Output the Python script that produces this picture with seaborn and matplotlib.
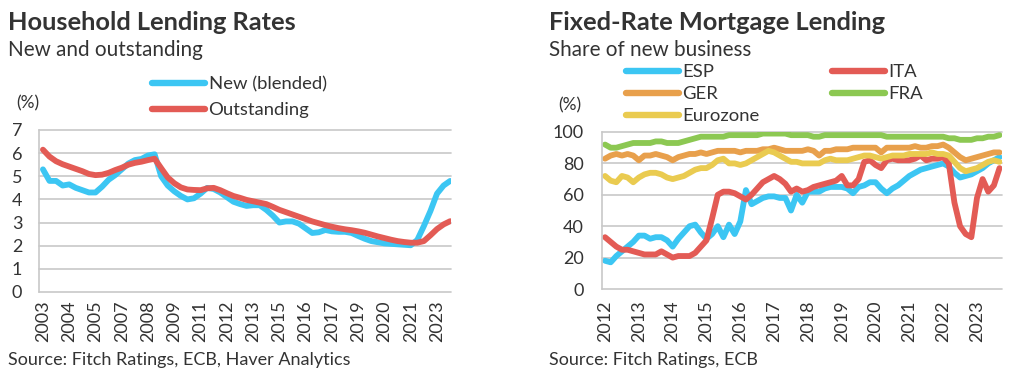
import matplotlib
matplotlib.use("Agg")
import matplotlib.pyplot as plt
import numpy as np
import pandas as pd
import seaborn as sns

# ---------------- Left chart data: Household lending rates (%), every 4 months from Jan 2003
hh_start_year = 2003
hh_step_months = 4
new_blended = [5.3, 4.8, 4.8, 4.6, 4.65, 4.5, 4.4, 4.3, 4.3, 4.55, 4.85, 5.05, 5.3, 5.55,
               5.7, 5.75, 5.9, 5.95, 5.0, 4.6, 4.35, 4.15, 4.0, 4.05, 4.25, 4.5, 4.45, 4.3,
               4.1, 3.9, 3.8, 3.72, 3.75, 3.75, 3.55, 3.3, 3.0, 3.05, 3.05, 2.95, 2.75, 2.55,
               2.58, 2.68, 2.62, 2.6, 2.6, 2.55, 2.42, 2.3, 2.2, 2.15, 2.1, 2.08, 2.06, 2.04,
               2.02, 2.25, 2.85, 3.5, 4.25, 4.6, 4.8]
outstanding = [6.15, 5.85, 5.65, 5.52, 5.42, 5.32, 5.22, 5.1, 5.05, 5.07, 5.15, 5.27, 5.37,
               5.5, 5.58, 5.63, 5.7, 5.76, 5.35, 4.95, 4.7, 4.52, 4.43, 4.41, 4.4, 4.48, 4.5,
               4.4, 4.27, 4.15, 4.07, 3.98, 3.92, 3.86, 3.8, 3.68, 3.55, 3.45, 3.35, 3.25,
               3.15, 3.05, 2.97, 2.89, 2.82, 2.76, 2.71, 2.67, 2.62, 2.56, 2.48, 2.4, 2.33,
               2.26, 2.2, 2.16, 2.13, 2.13, 2.2, 2.45, 2.72, 2.92, 3.06]
hh_tick_labels = ["2003", "2004", "2005", "2007", "2008", "2009", "2011", "2012", "2013",
                  "2015", "2016", "2017", "2019", "2020", "2021", "2023"]
hh_tick_step_months = 16
hh_series = ["New (blended)", "Outstanding"]
hh_colors = ["#3CC6F3", "#E35B55"]

# ---------------- Right chart data: fixed-rate share of new business (%), every 2 months from Jan 2012
fr_start_year = 2012
fr_step_months = 2
esp = [18, 17, 21, 24, 27, 30, 34, 34, 32, 33, 33, 31, 27, 32, 36, 40, 41, 36, 32, 35, 40, 33,
       41, 35, 43, 63, 54, 56, 58, 59, 59, 58, 58, 50, 60, 55, 62, 62, 62, 64, 65, 65, 65, 64,
       61, 65, 66, 68, 68, 64, 61, 64, 66, 69, 72, 74, 76, 77, 78, 79, 80, 78, 74, 71, 72, 73,
       75, 77, 80, 82, 84]
ita = [33, 30, 27, 25, 25, 24, 23, 22, 22, 22, 24, 22, 20, 21, 21, 21, 23, 27, 31, 45, 60, 62,
       62, 61, 59, 57, 60, 64, 68, 70, 72, 70, 67, 62, 64, 62, 63, 65, 66, 67, 68, 69, 72, 66,
       66, 70, 81, 82, 79, 77, 82, 83, 82, 82, 82, 83, 85, 82, 83, 83, 84, 80, 55, 40, 35, 33,
       58, 70, 62, 66, 77]
ger = [83, 85, 86, 85, 86, 85, 82, 85, 85, 86, 85, 84, 82, 84, 85, 86, 86, 87, 86, 87, 88, 88,
       88, 88, 87, 88, 88, 88, 89, 89, 90, 89, 88, 88, 88, 88, 89, 88, 85, 88, 88, 89, 89, 89,
       90, 90, 90, 90, 90, 87, 90, 90, 90, 90, 90, 91, 90, 90, 91, 91, 92, 90, 87, 84, 82, 83,
       84, 85, 86, 87, 87]
fra = [92, 90, 90, 91, 92, 93, 93, 93, 93, 94, 94, 93, 93, 93, 94, 95, 96, 97, 97, 97, 97, 97,
       98, 98, 98, 98, 98, 98, 99, 99, 99, 99, 99, 98, 98, 98, 98, 97, 97, 98, 98, 98, 98, 98,
       98, 98, 98, 98, 98, 98, 97, 97, 97, 97, 97, 97, 97, 97, 97, 97, 97, 96, 96, 95, 95, 95,
       96, 96, 97, 97, 98]
eurozone = [72, 69, 68, 72, 71, 68, 71, 73, 74, 74, 73, 71, 70, 71, 72, 74, 76, 77, 77, 79, 82,
            83, 80, 80, 79, 80, 82, 84, 86, 88, 87, 85, 83, 81, 81, 80, 80, 80, 80, 82, 83, 82,
            82, 82, 83, 84, 85, 85, 84, 83, 84, 85, 85, 85, 86, 86, 86, 86, 87, 86, 86, 85, 81,
            77, 75, 76, 77, 79, 81, 82, 81]
fr_tick_labels = ["2012", "2013", "2014", "2015", "2016", "2017", "2018", "2019", "2020",
                  "2021", "2022", "2023"]
fr_series = ["ESP", "ITA", "GER", "FRA", "Eurozone"]
fr_colors = ["#3CC6F3", "#E35B55", "#E8A04C", "#8CC852", "#EACB50"]

# ---------------- Build long-form tables
def long_table(series_names, series_values, start_year, step):
    frames = []
    for name, vals in zip(series_names, series_values):
        t = start_year + np.arange(len(vals)) * step / 12.0
        frames.append(pd.DataFrame({"date": t, "value": vals, "series": name}))
    return pd.concat(frames, ignore_index=True)

hh_df = long_table(hh_series, [new_blended, outstanding], hh_start_year, hh_step_months)
fr_df = long_table(fr_series, [esp, ita, ger, fra, eurozone], fr_start_year, fr_step_months)

# ---------------- Style
sns.set_style("white")
plt.rcParams["font.family"] = ["Lato", "DejaVu Sans"]
TXT = "#333333"
GRID = "#C8C8C8"
W, H = 1020, 380

fig = plt.figure(figsize=(W / 100, H / 100), dpi=100)

def fx(px):
    return px / W

def fy(py):
    return 1 - py / H

def axes_px(x0, y0, x1, y1):
    return fig.add_axes([fx(x0), fy(y1), fx(x1) - fx(x0), (y1 - y0) / H])

axL = axes_px(39, 130, 451, 292)
axR = axes_px(602, 132, 1002, 289)

LW = 4.2

sns.lineplot(data=hh_df, x="date", y="value", hue="series", hue_order=hh_series,
             palette=hh_colors, linewidth=LW, ax=axL, legend=True)
sns.lineplot(data=fr_df, x="date", y="value", hue="series", hue_order=fr_series,
             palette=fr_colors, linewidth=LW, ax=axR, legend=True)

def style_axes(ax):
    ax.set_xlabel("")
    ax.set_ylabel("")
    for s in ["top", "right", "bottom"]:
        ax.spines[s].set_visible(False)
    ax.spines["left"].set_color(GRID)
    ax.spines["left"].set_linewidth(1.2)
    ax.yaxis.grid(True, color=GRID, linewidth=1.2)
    ax.xaxis.grid(False)
    ax.set_axisbelow(True)
    ax.tick_params(axis="both", length=0, labelsize=13, colors=TXT)

# Left axes
style_axes(axL)
axL.set_ylim(0, 7)
axL.set_yticks(range(0, 8))
hh_ticks = [hh_start_year + i * hh_tick_step_months / 12.0 for i in range(len(hh_tick_labels))]
axL.set_xticks(hh_ticks)
axL.set_xticklabels(hh_tick_labels, rotation=90)
axL.set_xlim(hh_start_year - 0.2, hh_start_year + 20.71)
axL.tick_params(axis="y", pad=12)
axL.tick_params(axis="x", pad=6)
for gl in axL.get_ygridlines():
    gl.set_clip_on(False)

# Right axes
style_axes(axR)
axR.set_ylim(0, 100)
axR.set_yticks(range(0, 101, 20))
fr_ticks = [fr_start_year + i for i in range(len(fr_tick_labels))]
axR.set_xticks(fr_ticks)
axR.set_xticklabels(fr_tick_labels, rotation=90)
axR.set_xlim(fr_start_year - 0.09, fr_start_year + 11.74)
axR.tick_params(axis="y", pad=13)
axR.tick_params(axis="x", pad=8)
for gl in axR.get_ygridlines():
    gl.set_clip_on(False)

# Legends
LEG_FS = 13.3
hL, lL = axL.get_legend_handles_labels()
axL.get_legend().remove()
legL = fig.legend(hL, lL, loc="upper left", bbox_to_anchor=(fx(152), fy(76)),
                  frameon=False, fontsize=LEG_FS, handlelength=2.86, handletextpad=0.2,
                  labelspacing=0.55, borderpad=0, borderaxespad=0)
hR, lR = axR.get_legend_handles_labels()
axR.get_legend().remove()
order = ["ESP", "GER", "Eurozone", "ITA", "FRA"]
hmap = dict(zip(lR, hR))
legR = fig.legend([hmap[k] for k in order], order, loc="upper left",
                  bbox_to_anchor=(fx(626), fy(64)), ncol=2, frameon=False, fontsize=LEG_FS,
                  handlelength=2.86, handletextpad=0.2, labelspacing=0.33,
                  columnspacing=3.9, borderpad=0, borderaxespad=0)
for leg in (legL, legR):
    for line in leg.get_lines():
        line.set_linewidth(LW + 0.4)
        line.set_solid_capstyle("round")
    for t in leg.get_texts():
        t.set_color(TXT)

# Titles and notes
fig.text(fx(8), fy(29.5), "Household Lending Rates", fontsize=18.3, fontweight="bold",
         color=TXT, va="baseline", ha="left")
fig.text(fx(8), fy(56.5), "New and outstanding", fontsize=14.9, color=TXT,
         va="baseline", ha="left")
fig.text(fx(549), fy(29.5), "Fixed-Rate Mortgage Lending", fontsize=18.3, fontweight="bold",
         color=TXT, va="baseline", ha="left")
fig.text(fx(549), fy(56.5), "Share of new business", fontsize=14.9, color=TXT,
         va="baseline", ha="left")
fig.text(fx(28), fy(103), "(%)", fontsize=12.5, color=TXT, va="center", ha="center")
fig.text(fx(570), fy(105), "(%)", fontsize=12.5, color=TXT, va="center", ha="center")
fig.text(fx(8), fy(365), "Source: Fitch Ratings, ECB, Haver Analytics", fontsize=13.0,
         color=TXT, va="baseline", ha="left")
fig.text(fx(549), fy(365), "Source: Fitch Ratings, ECB", fontsize=13.0, color=TXT,
         va="baseline", ha="left")

fig.savefig("out.png", dpi=100, facecolor="white")
